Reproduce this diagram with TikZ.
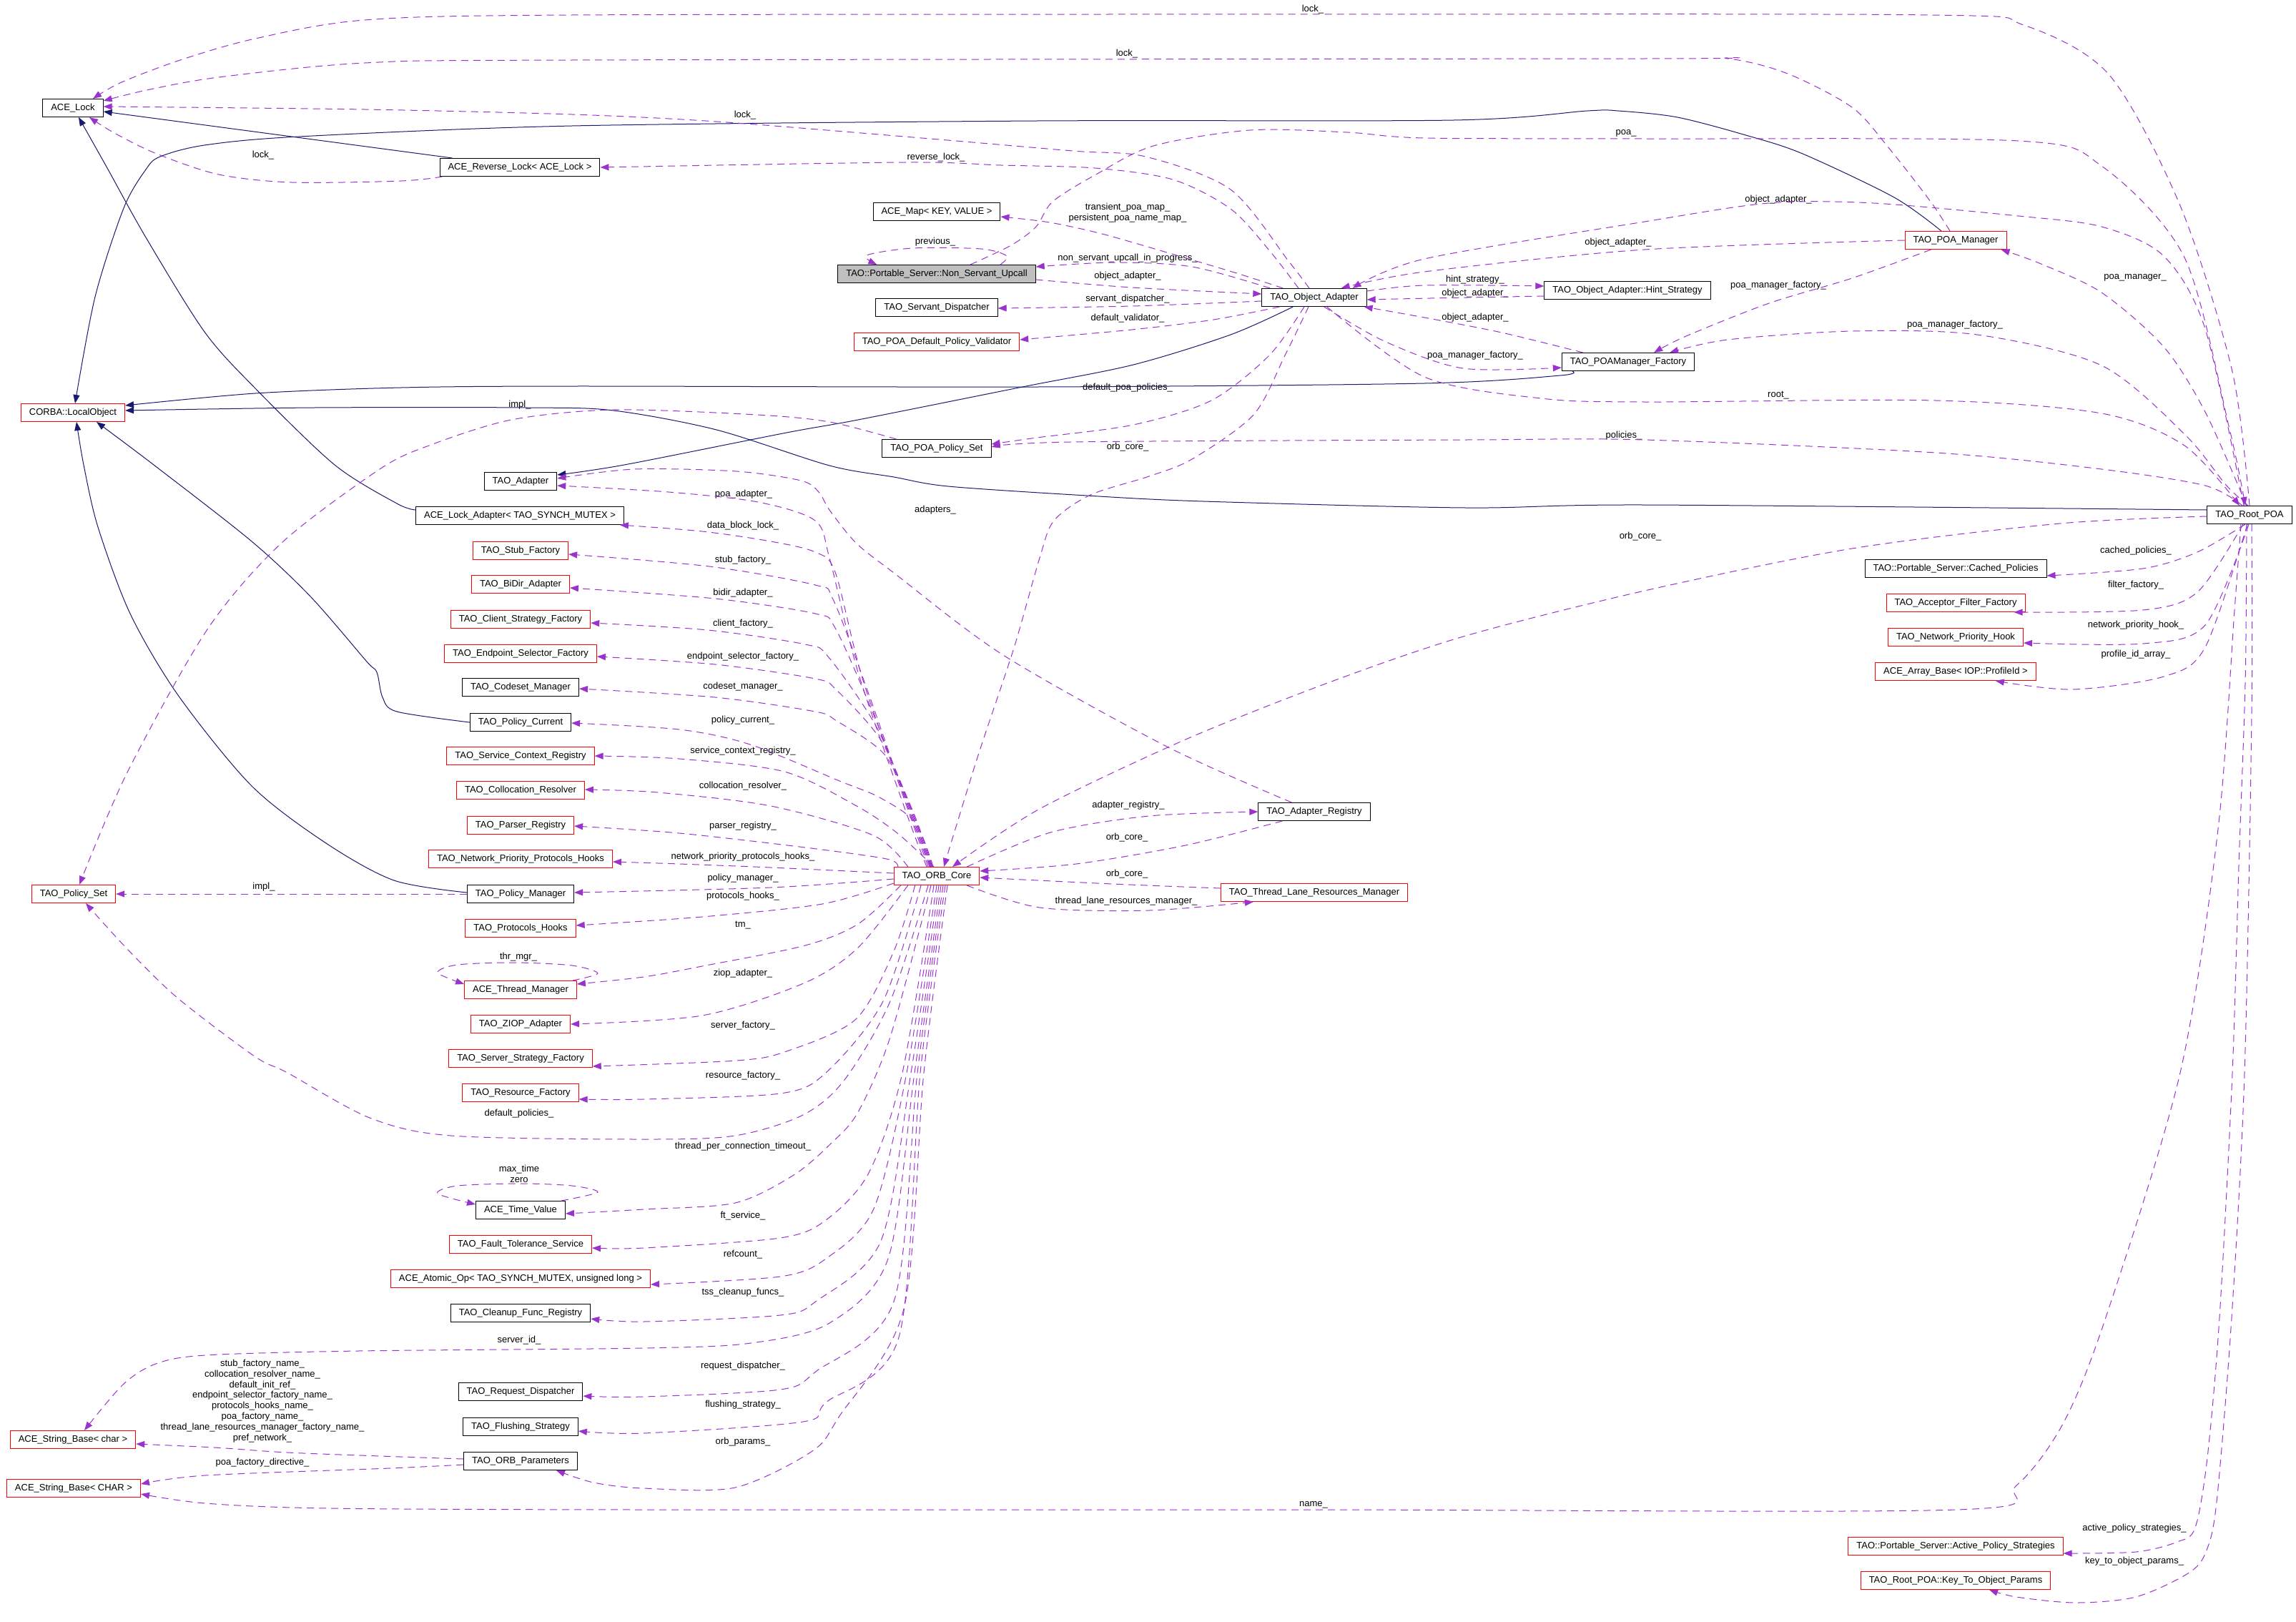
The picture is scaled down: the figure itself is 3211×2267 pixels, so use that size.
\documentclass[tikz,border=0pt]{standalone}
\usepackage{fontspec}
\newfontfamily\labfont{Liberation Sans}
\newcommand\labf{\labfont\fontsize{13}{15}\selectfont}
\usetikzlibrary{arrows.meta,calc}
\definecolor{usecol}{HTML}{9A32CD}
\definecolor{inhcol}{HTML}{191970}
\definecolor{boxred}{HTML}{FF0000}
\definecolor{nsugrey}{HTML}{BFBFBF}
\tikzset{
  cbox/.style={draw=black, line width=1pt, fill=white, inner xsep=11.5pt, inner ysep=0pt, minimum height=25pt, font=\labf, text height=9.5pt, text depth=3pt},
  rbox/.style={cbox, draw=boxred},
  gbox/.style={cbox, fill=nsugrey},
  member/.style={draw=usecol, line width=1pt, dash pattern=on 10pt off 7pt, -{Triangle[length=12pt,width=9pt]}},
  inherit/.style={draw=inhcol, line width=1pt, -{Triangle[length=12pt,width=9pt]}},
  elab/.style={font=\labf, inner sep=0pt, align=center},
}
\begin{document}
\begin{tikzpicture}[x=1pt,y=-1pt]
\fill[white] (0,0) rectangle (3211,2267);
\useasboundingbox (0,0) rectangle (3211,2267);

% ---------------- nodes
\node[cbox] (lock) at (102,151) {ACE\_Lock};
\node[rbox] (corba) at (102,577) {CORBA::LocalObject};
\node[cbox] (revlock) at (727,234) {ACE\_Reverse\_Lock< ACE\_Lock >};
\node[cbox] (acemap) at (1310,296) {ACE\_Map< KEY, VALUE >};
\node[gbox] (nsu) at (1310,383) {TAO::Portable\_Server::Non\_Servant\_Upcall};
\node[cbox] (sd) at (1310,430) {TAO\_Servant\_Dispatcher};
\node[rbox] (val) at (1310,478) {TAO\_POA\_Default\_Policy\_Validator};
\node[cbox] (pps) at (1310,627) {TAO\_POA\_Policy\_Set};
\node[cbox] (oa) at (1838,416) {TAO\_Object\_Adapter};
\node[cbox] (hint) at (2276,406) {TAO\_Object\_Adapter::Hint\_Strategy};
\node[rbox] (poam) at (2735,336) {TAO\_POA\_Manager};
\node[cbox] (poamf) at (2277,506) {TAO\_POAManager\_Factory};
\node[cbox] (root) at (3146,720) {TAO\_Root\_POA};
\node[cbox] (adapter) at (728,673) {TAO\_Adapter};
\node[cbox] (lockad) at (727,721) {ACE\_Lock\_Adapter< TAO\_SYNCH\_MUTEX >};
\node[rbox] (stub) at (728,770) {TAO\_Stub\_Factory};
\node[rbox] (bidir) at (728,817) {TAO\_BiDir\_Adapter};
\node[rbox] (csf) at (728,866) {TAO\_Client\_Strategy\_Factory};
\node[rbox] (esf) at (728,914) {TAO\_Endpoint\_Selector\_Factory};
\node[cbox] (codeset) at (728,961) {TAO\_Codeset\_Manager};
\node[cbox] (pcur) at (728,1010) {TAO\_Policy\_Current};
\node[rbox] (scr) at (728,1057) {TAO\_Service\_Context\_Registry};
\node[rbox] (colres) at (728,1105) {TAO\_Collocation\_Resolver};
\node[rbox] (parser) at (728,1154) {TAO\_Parser\_Registry};
\node[rbox] (npph) at (728,1201) {TAO\_Network\_Priority\_Protocols\_Hooks};
\node[cbox] (pman) at (728,1250) {TAO\_Policy\_Manager};
\node[rbox] (phooks) at (728,1298) {TAO\_Protocols\_Hooks};
\node[rbox] (thrmgr) at (728,1384) {ACE\_Thread\_Manager};
\node[rbox] (ziop) at (728,1432) {TAO\_ZIOP\_Adapter};
\node[rbox] (ssf) at (728,1480) {TAO\_Server\_Strategy\_Factory};
\node[rbox] (resf) at (728,1528) {TAO\_Resource\_Factory};
\node[cbox] (tv) at (728,1692) {ACE\_Time\_Value};
\node[rbox] (fts) at (728,1740) {TAO\_Fault\_Tolerance\_Service};
\node[rbox] (atomic) at (728,1788) {ACE\_Atomic\_Op< TAO\_SYNCH\_MUTEX, unsigned long >};
\node[cbox] (cleanup) at (728,1836) {TAO\_Cleanup\_Func\_Registry};
\node[cbox] (reqd) at (728,1946) {TAO\_Request\_Dispatcher};
\node[cbox] (flush) at (728,1995) {TAO\_Flushing\_Strategy};
\node[cbox] (orbp) at (728,2043) {TAO\_ORB\_Parameters};
\node[rbox] (sbchar) at (102,2013) {ACE\_String\_Base< char >};
\node[rbox] (sbCH) at (103,2081) {ACE\_String\_Base< CHAR >};
\node[rbox] (polset) at (103,1250) {TAO\_Policy\_Set};
\node[rbox] (orb) at (1310,1225) {TAO\_ORB\_Core};
\node[cbox] (areg) at (1838,1135) {TAO\_Adapter\_Registry};
\node[rbox] (tlrm) at (1838,1248) {TAO\_Thread\_Lane\_Resources\_Manager};
\node[cbox] (cached) at (2735,795) {TAO::Portable\_Server::Cached\_Policies};
\node[rbox] (aff) at (2735,843) {TAO\_Acceptor\_Filter\_Factory};
\node[rbox] (nph) at (2735,891) {TAO\_Network\_Priority\_Hook};
\node[rbox] (arr) at (2735,939) {ACE\_Array\_Base< IOP::ProfileId >};
\node[rbox] (aps) at (2735,2162) {TAO::Portable\_Server::Active\_Policy\_Strategies};
\node[rbox] (ktop) at (2735,2210) {TAO\_Root\_POA::Key\_To\_Object\_Params};

% ---------------- edge labels
\node[elab] (t1) at (1836,13) {lock\_};
\node[elab] (t2) at (1576,75) {lock\_};
\node[elab] (t3) at (1042,161) {lock\_};
\node[elab] (t4) at (368,217) {lock\_};
\node[elab] (t5) at (2274,186) {poa\_};
\node[elab] (t6) at (1309,220) {reverse\_lock\_};
\node[elab] (t7) at (1577,298) {transient\_poa\_map\_\\persistent\_poa\_name\_map\_};
\node[elab] (t8) at (1308,338) {previous\_};
\node[elab] (t9) at (1577,361) {non\_servant\_upcall\_in\_progress\_};
\node[elab] (t10) at (1577,386) {object\_adapter\_};
\node[elab] (t11) at (1577,418) {servant\_dispatcher\_};
\node[elab] (t12) at (1577,445) {default\_validator\_};
\node[elab] (t13) at (1577,542) {default\_poa\_policies\_};
\node[elab] (t14) at (1577,625) {orb\_core\_};
\node[elab] (t15) at (2487,279) {object\_adapter\_};
\node[elab] (t16) at (2263,339) {object\_adapter\_};
\node[elab] (t17) at (2063,391) {hint\_strategy\_};
\node[elab] (t18) at (2063,410) {object\_adapter\_};
\node[elab] (t19) at (2063,444) {object\_adapter\_};
\node[elab] (t20) at (2063,497) {poa\_manager\_factory\_};
\node[elab] (t21) at (2487,399) {poa\_manager\_factory\_};
\node[elab] (t22) at (2986,388) {poa\_manager\_};
\node[elab] (t23) at (2734,454) {poa\_manager\_factory\_};
\node[elab] (t24) at (2487,553) {root\_};
\node[elab] (t25) at (2271,609) {policies\_};
\node[elab] (t26) at (727,566) {impl\_};
\node[elab] (t27) at (2294,750) {orb\_core\_};
\node[elab] (t28) at (1308,713) {adapters\_};
\node[elab] (t29) at (1040,691) {poa\_adapter\_};
\node[elab] (t30) at (1039,735) {data\_block\_lock\_};
\node[elab] (t31) at (1039,783) {stub\_factory\_};
\node[elab] (t32) at (1039,829) {bidir\_adapter\_};
\node[elab] (t33) at (1039,872) {client\_factory\_};
\node[elab] (t34) at (1039,918) {endpoint\_selector\_factory\_};
\node[elab] (t35) at (1039,960) {codeset\_manager\_};
\node[elab] (t36) at (1039,1007) {policy\_current\_};
\node[elab] (t37) at (1039,1050) {service\_context\_registry\_};
\node[elab] (t38) at (1039,1099) {collocation\_resolver\_};
\node[elab] (t39) at (1039,1155) {parser\_registry\_};
\node[elab] (t40) at (1039,1198) {network\_priority\_protocols\_hooks\_};
\node[elab] (t41) at (1039,1228) {policy\_manager\_};
\node[elab] (t42) at (1039,1253) {protocols\_hooks\_};
\node[elab] (t43) at (1039,1294) {tm\_};
\node[elab] (t44) at (725,1338) {thr\_mgr\_};
\node[elab] (t45) at (1039,1361) {ziop\_adapter\_};
\node[elab] (t46) at (1039,1434) {server\_factory\_};
\node[elab] (t47) at (1039,1504) {resource\_factory\_};
\node[elab] (t48) at (726,1557) {default\_policies\_};
\node[elab] (t49) at (1039,1603) {thread\_per\_connection\_timeout\_};
\node[elab] (t50) at (726,1641) {max\_time\\zero};
\node[elab] (t51) at (1039,1700) {ft\_service\_};
\node[elab] (t52) at (1039,1754) {refcount\_};
\node[elab] (t53) at (1039,1807) {tss\_cleanup\_funcs\_};
\node[elab] (t54) at (726,1874) {server\_id\_};
\node[elab] (t55) at (1039,1910) {request\_dispatcher\_};
\node[elab] (t56) at (1039,1964) {flushing\_strategy\_};
\node[elab] (t57) at (1039,2016) {orb\_params\_};
\node[elab, font=\labfont\fontsize{13}{14.8}\selectfont] (t58) at (367,1959) {stub\_factory\_name\_\\collocation\_resolver\_name\_\\default\_init\_ref\_\\endpoint\_selector\_factory\_name\_\\protocols\_hooks\_name\_\\poa\_factory\_name\_\\thread\_lane\_resources\_manager\_factory\_name\_\\pref\_network\_};
\node[elab] (t59) at (367,2045) {poa\_factory\_directive\_};
\node[elab] (t60) at (1837,2104) {name\_};
\node[elab] (t61) at (1578,1126) {adapter\_registry\_};
\node[elab] (t62) at (1576,1171) {orb\_core\_};
\node[elab] (t63) at (1576,1222) {orb\_core\_};
\node[elab] (t64) at (1575,1260) {thread\_lane\_resources\_manager\_};
\node[elab] (t65) at (2987,770) {cached\_policies\_};
\node[elab] (t66) at (2987,818) {filter\_factory\_};
\node[elab] (t67) at (2987,874) {network\_priority\_hook\_};
\node[elab] (t68) at (2987,915) {profile\_id\_array\_};
\node[elab] (t69) at (2985,2137) {active\_policy\_strategies\_};
\node[elab] (t70) at (2985,2183) {key\_to\_object\_params\_};
\node[elab] (t71) at (369,1240) {impl\_};

% ---------------- inheritance (solid)
\draw[inherit] ($(revlock.north west)+(18,0)$) -- ($(lock.east)+(0,5)$);
\draw[inherit] plot[smooth] coordinates {($(lockad.west)+(0,-8)$) (555,704) (468,650) (357,543) (286,464) (204,332) (150,235) ($(lock.south)+(8,0)$)};
\draw[inherit] plot[smooth] coordinates {($(poam.north)+(-20,0)$) (2649,276) (2521,215) (2445,190) (2346,164) (2263,155) (2220,155) (2033,168) (1450,169) (800,176) (418,191) (286,203) (224,219) (204,237) (173,291) (133,415) ($(corba.north)+(3,0)$)};
\draw[inherit] plot[smooth] coordinates {($(poamf.south west)+(15,0)$) (2182,525) (1992,536) (1450,541) (800,540) (561,542) (357,550) ($(corba.north east)+(0,3)$)};
\draw[inherit] plot[smooth] coordinates {($(root.west)+(0,-7)$) (2300,706) (2050,710) (1683,701) (1520,693) (1326,680) (1250,667) (1160,651) (1002,601) (858,574) (738,570) (439,570) ($(corba.east)+(0,-3)$)};
\draw[inherit] plot[smooth] coordinates {($(pman.west)+(0,-2)$) (551,1231) (456,1179) (352,1099) (249,972) (182,858) (137,737) (117,650) ($(corba.south)+(5,0)$)};
\draw[inherit] plot[smooth] coordinates {(pcur.west) (555,995) (535,975) (527,940) (512,924) (435,835) (352,757) (215,650) ($(corba.south east)+(-40,0)$)};
\draw[inherit] plot[smooth] coordinates {($(oa.south west)+(44,0)$) (1721,468) (1585,510) (1430,541) (1200,587) (1100,605) (873,650) ($(adapter.east)+(0,-9)$)};

% ---------------- usage (dashed)
% lock_
\draw[member] plot[smooth] coordinates {(root.north) (3122,520) (3050,290) (2950,105) (2830,35) (2700,21) (1800,20) (800,21) (510,28) (357,54) (255,83) (170,115) ($(lock.north)+(28,0)$)};
\draw[member] plot[smooth] coordinates {($(poam.north)+(-8,0)$) (2700,282) (2640,205) (2590,150) (2500,103) (2416,82) (2300,82) (800,84) (510,88) (306,108) (205,126) ($(lock.east)+(0,-10)$)};
\draw[member] plot[smooth] coordinates {($(oa.north)+(-7,0)$) (1802,365) (1721,265) (1602,219) (1500,211) (1289,193) (1002,170) (800,160) (510,153) ($(lock.east)+(0,-2)$)};
\draw[member] plot[smooth] coordinates {($(revlock.south west)+(4,0)$) (561,253) (408,255) (306,244) (219,215) (160,186) ($(lock.south)+(23,0)$)};
% poa_
\draw[member] plot[smooth] coordinates {($(nsu.north)+(47,0)$) (1414,343) (1449,317) (1472,282) (1531,245) (1613,204) (1748,182) (1884,185) (1992,193) (2300,194) (2823,197) (2939,232) (3055,360) (3118,600) ($(root.north)+(-6,0)$)};
% previous_
\draw[member] plot[smooth] coordinates {($(nsu.north)+(89,0)$) (1408,358) (1372,348) (1276,347) (1212,357) ($(nsu.north west)+(55,0)$)};
% object adapter fan
\draw[member] plot[smooth] coordinates {($(oa.north)+(-22,0)$) (1775,350) (1721,292) (1640,251) (1531,235) (1400,231) (1266,227) (revlock.east)};
\draw[member] plot[smooth] coordinates {($(oa.north west)+(30,0)$) (1736,384) (1659,361) (1545,328) (1468,311) ($(acemap.east)+(0,7)$)};
\draw[member] plot[smooth] coordinates {($(oa.north west)+(12,0)$) (1667,373) (1558,367) ($(nsu.east)+(0,-10)$)};
\draw[member] plot[smooth] coordinates {($(nsu.east)+(0,8)$) (1583,402) ($(oa.west)+(0,-5)$)};
\draw[member] plot[smooth] coordinates {($(oa.west)+(0,5)$) (1583,428) ($(sd.east)+(0,1)$)};
\draw[member] plot[smooth] coordinates {($(oa.south west)+(25,0)$) (1697,447) (1583,461) ($(val.east)+(0,-3)$)};
\draw[member] plot[smooth] coordinates {($(oa.south)+(-14,0)$) (1775,497) (1694,560) (1585,594) (1450,612) ($(pps.east)+(0,-6)$)};
\draw[member] plot[smooth] coordinates {($(root.north)+(-10,0)$) (3084,679) (2939,656) (2707,633) (2300,615) (2050,615) (1500,618) ($(pps.east)+(0,-2)$)};
\draw[member] plot[smooth] coordinates {($(oa.south)+(-8,0)$) (1797,497) (1753,580) (1667,642) (1607,666) (1525,692) (1474,728) (1454,780) (1418,906) (1367,1059) ($(orb.north)+(10,0)$)};
\draw[member] plot[smooth] coordinates {($(root.west)+(0,2)$) (2881,732) (2590,767) (2300,826) (2050,889) (1862,953) (1658,1034) (1454,1131) ($(orb.north)+(22,0)$)};
% POA manager / factory / root
\draw[member] plot[smooth] coordinates {($(root.north)+(-4,0)$) (3084,576) (3026,485) (2939,409) (2852,368) ($(poam.south east)+(-8,0)$)};
\draw[member] plot[smooth] coordinates {($(root.north)+(-2,0)$) (3113,678) (3055,607) (2939,511) (2765,468) (2590,463) (2416,475) ($(poamf.north east)+(-35,0)$)};
\draw[member] plot[smooth] coordinates {($(root.north)+(-8,0)$) (3084,460) (3026,358) (2939,317) (2823,302) (2620,284) (2474,284) (2300,310) (1992,362) ($(oa.north east)+(-20,0)$)};
\draw[member] plot[smooth] coordinates {(poam.west) (2300,349) (1992,380) ($(oa.north east)+(-36,0)$)};
\draw[member] plot[smooth] coordinates {($(oa.east)+(0,-9)$) (1992,399) ($(hint.west)+(0,-6)$)};
\draw[member] plot[smooth] coordinates {($(hint.west)+(0,8)$) (2000,417) ($(oa.east)+(0,3)$)};
\draw[member] plot[smooth] coordinates {($(poamf.north west)+(30,0)$) (2100,465) (1992,444) ($(oa.south east)+(-4,0)$)};
\draw[member] plot[smooth] coordinates {($(oa.south east)+(-60,0)$) (1938,478) (2046,515) ($(poamf.west)+(0,8)$)};
\draw[member] plot[smooth] coordinates {($(poam.south west)+(37,0)$) (2590,389) (2474,424) (2358,470) ($(poamf.north east)+(-57,0)$)};
\draw[member] plot[smooth] coordinates {($(oa.south east)+(-56,0)$) (1992,527) (2155,557) (2300,562) (2707,560) (2939,578) (3055,623) ($(root.north)+(-14,0)$)};
% root bottom
\draw[member] plot[smooth] coordinates {($(root.south)+(-6,0)$) (3073,772) (2997,795) ($(cached.east)+(0,10)$)};
\draw[member] plot[smooth] coordinates {($(root.south)+(-9,0)$) (3073,828) (2997,853) ($(aff.south east)+(-16,0)$)};
\draw[member] plot[smooth] coordinates {($(root.south)+(-1,0)$) (3084,874) (2997,900) ($(nph.east)+(0,8)$)};
\draw[member] plot[smooth] coordinates {($(root.south)+(-3,0)$) (3084,905) (3026,946) (2898,964) ($(arr.south east)+(-57,0)$)};
\draw[member] plot[smooth] coordinates {($(root.south)+(-4,0)$) (3140,955) (3131,1210) (3122,1500) (3104,1842) (3087,2038) (3070,2136) (3045,2156) (2987,2170) ($(aps.east)+(0,10)$)};
\draw[member] plot[smooth] coordinates {($(root.south)+(3,0)$) (3149,1000) (3139,1500) (3121,1842) (3100,2100) (3085,2170) (3060,2200) (2987,2233) (2903,2241) (2820,2233) ($(ktop.south)+(47,0)$)};
\draw[member] plot[smooth] coordinates {($(root.south)+(-12,0)$) (3125,853) (3102,1159) (3049,1500) (2945,1842) (2886,1989) (2820,2077) (2736,2111) (1837,2111) (900,2111) (459,2109) (287,2102) ($(sbCH.east)+(0,8)$)};
% ORB parameters
\draw[member] plot[smooth] coordinates {($(orbp.west)+(0,-3)$) (560,2037) (402,2031) (300,2024) ($(sbchar.east)+(0,6)$)};
\draw[member] plot[smooth] coordinates {($(orbp.west)+(0,5)$) (545,2053) (287,2063) ($(sbCH.east)+(0,-6)$)};
% policy set
\draw[member] plot[smooth] coordinates {($(pps.north west)+(20,0)$) (1160,590) (1059,580) (858,573) (715,587) (600,623) (531,656) (394,759) (290,880) (178,1080) ($(polset.north)+(8,0)$)};
\draw[member] (pman.west) -- (polset.east);
\draw[member] plot[smooth] coordinates {($(orb.south)+(-12,0)$) (1245,1400) (1181,1510) (1123,1559) (1028,1588) (900,1593) (631,1588) (517,1563) (402,1500) (356,1477) (249,1396) (178,1327) ($(polset.south)+(17,0)$)};
% adapters
\draw[member] plot[smooth] coordinates {($(areg.north west)+(47,0)$) (1632,1044) (1403,916) (1250,801) (1197,759) (1160,713) (1145,688) (1120,672) (1030,659) (887,656) ($(adapter.east)+(0,-4)$)};
\draw[member] plot[smooth] coordinates {($(orb.north)+(-14,0)$) (1268,1138) (1200,940) (1160,780) (1140,728) (1060,702) (935,688) ($(adapter.east)+(0,6)$)};
% ORB core upper fan
\draw[member] plot[smooth] coordinates {($(orb.north)+(-12,0)$) (1262,1110) (1205,945) (1168,800) (1140,772) (1078,757) (982,743) ($(lockad.south east)+(-6,0)$)};
\draw[member] plot[smooth] coordinates {($(orb.north)+(-10,0)$) (1265,1115) (1213,965) (1165,838) (1140,818) (992,792) ($(stub.east)+(0,5)$)};
\draw[member] plot[smooth] coordinates {($(orb.north)+(-9,0)$) (1268,1120) (1220,995) (1168,878) (1140,858) (1000,837) ($(bidir.east)+(0,5)$)};
\draw[member] plot[smooth] coordinates {($(orb.north)+(-8,0)$) (1271,1125) (1225,1015) (1158,918) (1126,901) (990,881) ($(csf.east)+(0,5)$)};
\draw[member] plot[smooth] coordinates {($(orb.north)+(-7,0)$) (1274,1130) (1232,1035) (1170,965) (1140,949) (1000,929) ($(esf.east)+(0,4)$)};
\draw[member] plot[smooth] coordinates {($(orb.north)+(-6,0)$) (1277,1135) (1237,1055) (1170,1008) (1140,995) (1000,975) ($(codeset.east)+(0,2)$)};
\draw[member] plot[smooth] coordinates {($(orb.north)+(-5,0)$) (1280,1150) (1230,1115) (1174,1092) (1049,1041) (950,1020) ($(pcur.east)+(0,1)$)};
\draw[member] plot[smooth] coordinates {($(orb.north)+(-4,0)$) (1255,1165) (1198,1127) (1097,1079) (950,1061) (scr.east)};
\draw[member] plot[smooth] coordinates {($(orb.north west)+(20,0)$) (1221,1168) (1078,1127) (920,1108) ($(colres.east)+(0,-1)$)};
\draw[member] plot[smooth] coordinates {($(orb.north west)+(6,0)$) (1240,1201) (1126,1185) (950,1165) ($(parser.east)+(0,1)$)};
\draw[member] plot[smooth] coordinates {($(orb.west)+(0,-4)$) (1078,1213) (950,1208) ($(npph.east)+(0,4)$)};
\draw[member] plot[smooth] coordinates {($(orb.west)+(0,4)$) (1078,1241) ($(pman.east)+(0,-2)$)};
\draw[member] plot[smooth] coordinates {($(orb.west)+(0,10)$) (1150,1264) (982,1282) ($(phooks.east)+(0,-4)$)};
% ORB core lower fan
\draw[member] plot[smooth] coordinates {($(orb.south west)+(10,0)$) (1200,1292) (1126,1322) (982,1351) (900,1366) ($(thrmgr.east)+(0,-8)$)};
\draw[member] plot[smooth] coordinates {($(thrmgr.north east)+(-6,0)$) (836,1361) (800,1350) (720,1346) (640,1349) (612,1360) ($(thrmgr.west)+(0,-8)$)};
\draw[member] plot[smooth] coordinates {($(orb.south west)+(20,0)$) (1200,1325) (1126,1374) (982,1420) (ziop.east)};
\draw[member] plot[smooth] coordinates {($(orb.south west)+(30,0)$) (1250,1330) (1197,1425) (1100,1470) (1030,1483) ($(ssf.south east)+(0,-2)$)};
\draw[member] plot[smooth] coordinates {($(orb.south)+(-22,0)$) (1235,1400) (1155,1500) (1091,1529) (900,1537) ($(resf.east)+(0,9)$)};
\draw[member] plot[smooth] coordinates {($(orb.south)+(-8,0)$) (1245,1450) (1200,1555) (1162,1599) (1110,1643) (1028,1682) (900,1691) ($(tv.east)+(0,5)$)};
\draw[member] plot[smooth] coordinates {($(tv.north east)+(-6,0)$) (836,1667) (800,1658) (729,1655) (640,1658) (612,1669) ($(tv.west)+(0,-8)$)};
\draw[member] plot[smooth] coordinates {($(orb.south)+(-4,0)$) (1262,1500) (1215,1640) (1155,1706) (1091,1731) (900,1745) ($(fts.east)+(0,5)$)};
\draw[member] plot[smooth] coordinates {(orb.south) (1268,1500) (1222,1690) (1155,1760) (1091,1785) ($(atomic.east)+(0,8)$)};
\draw[member] plot[smooth] coordinates {($(orb.south)+(3,0)$) (1274,1500) (1232,1735) (1142,1819) (1091,1839) (900,1848) ($(cleanup.east)+(0,8)$)};
\draw[member] plot[smooth] coordinates {($(orb.south)+(6,0)$) (1279,1500) (1242,1760) (1160,1850) (1050,1878) (900,1885) (500,1889) (287,1895) (218,1907) (172,1936) ($(sbchar.north)+(16,0)$)};
\draw[member] plot[smooth] coordinates {($(orb.south)+(9,0)$) (1283,1500) (1250,1820) (1142,1917) (1091,1943) (900,1953) ($(reqd.east)+(0,6)$)};
\draw[member] plot[smooth] coordinates {($(orb.south)+(12,0)$) (1287,1500) (1257,1870) (1155,1961) (1123,1988) (900,2004) ($(flush.east)+(0,6)$)};
\draw[member] plot[smooth] coordinates {($(orb.south)+(15,0)$) (1292,1500) (1264,1830) (1174,1980) (1136,2029) (1028,2080) (900,2081) (830,2073) ($(orbp.south)+(50,0)$)};
% ORB core right side
\draw[member] plot[smooth] coordinates {($(orb.north east)+(-18,0)$) (1469,1164) (1607,1141) (areg.west)};
\draw[member] plot[smooth] coordinates {($(areg.south west)+(34,0)$) (1658,1182) (1505,1208) ($(orb.east)+(0,-7)$)};
\draw[member] plot[smooth] coordinates {($(tlrm.west)+(0,-6)$) (1556,1236) ($(orb.east)+(0,2)$)};
\draw[member] plot[smooth] coordinates {($(orb.south east)+(-18,0)$) (1454,1269) (1607,1273) ($(tlrm.south west)+(46,0)$)};
\end{tikzpicture}
\end{document}
